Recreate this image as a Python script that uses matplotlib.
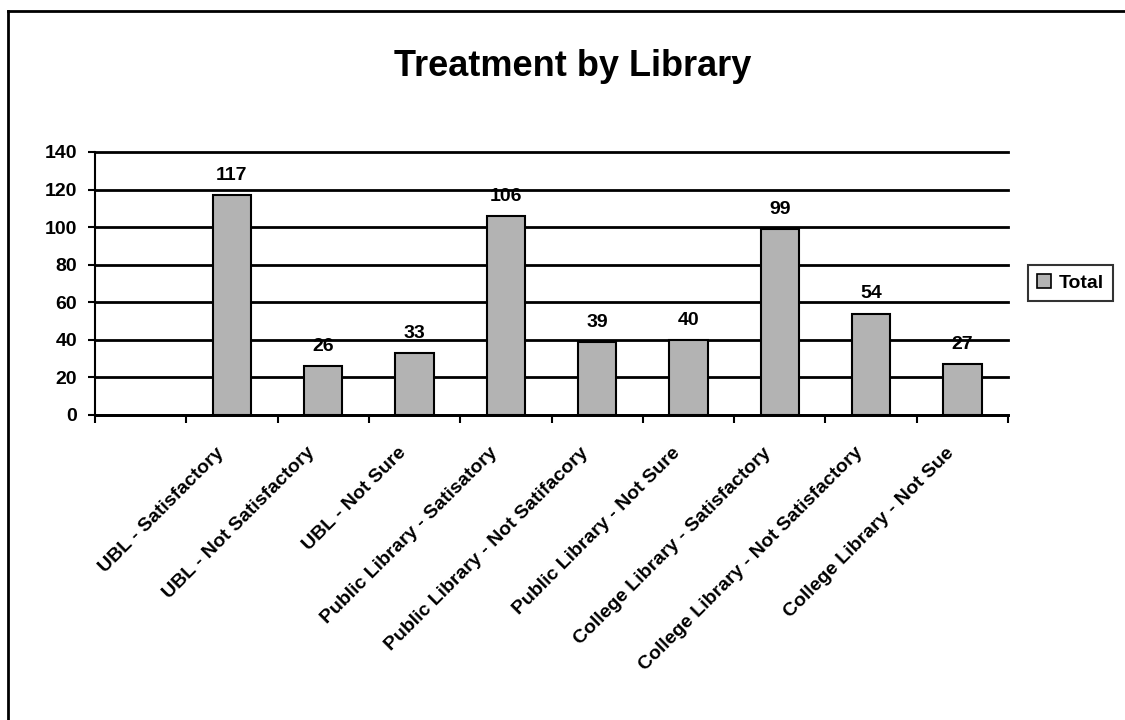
import matplotlib
matplotlib.use("Agg")
import matplotlib.pyplot as plt
import matplotlib.transforms as mtransforms
from matplotlib.patches import Patch
from matplotlib.lines import Line2D

categories = ["", "UBL - Satisfactory", "UBL - Not Satisfactory", "UBL - Not Sure",
              "Public Library - Satisatory", "Public Library - Not Satifacory",
              "Public Library - Not Sure", "College Library - Satisfactory",
              "College Library - Not Satisfactory", "College Library - Not Sue"]
values = [None, 117, 26, 33, 106, 39, 40, 99, 54, 27]
yticks = [0, 20, 40, 60, 80, 100, 120, 140]
title = "Treatment by Library"
series_name = "Total"

plt.rcParams['font.family'] = ['Liberation Sans', 'DejaVu Sans']

fig = plt.figure(figsize=(11.25, 7.2), dpi=100)
ax = fig.add_axes([95/1125, 1-415/720, (1008-95)/1125, (415-152)/720])

bar_color = "#b3b3b3"
xs = [i for i, v in enumerate(values) if v is not None]
hs = [v for v in values if v is not None]
ax.bar(xs, hs, width=0.42, color=bar_color, edgecolor="black", linewidth=1.5, zorder=3)
for x, h in zip(xs, hs):
    ax.annotate(str(h), (x, h), xytext=(0, 8), textcoords="offset points",
                ha="center", va="bottom", fontsize=14, fontweight="bold", zorder=4)

ax.set_xlim(-0.5, len(categories) - 0.5)
ax.set_ylim(0, 140)
ax.set_yticks(yticks)
ax.set_yticklabels([str(t) for t in yticks], fontsize=14, fontweight="bold")
ax.yaxis.grid(True, color="black", linewidth=2)
for gl in ax.get_ygridlines():
    gl.set_clip_on(False)
ax.set_axisbelow(True)
for s in ["top", "right"]:
    ax.spines[s].set_visible(False)
ax.spines["left"].set_linewidth(1.5)
ax.spines["bottom"].set_linewidth(2)
ax.tick_params(axis="y", direction="out", length=5, width=1.5, pad=8)

ax.set_xticks(range(len(categories)))
ax.set_xticklabels(categories, rotation=45, ha="right", va="top",
                   rotation_mode="anchor", fontsize=14, fontweight="bold")
ax.tick_params(axis="x", which="major", length=0, pad=21)
shift = mtransforms.ScaledTranslation(-17/100, 0, fig.dpi_scale_trans)
for lab in ax.get_xticklabels():
    lab.set_transform(lab.get_transform() + shift)
ax.set_xticks([i - 0.5 for i in range(len(categories) + 1)], minor=True)
ax.tick_params(axis="x", which="minor", direction="out", length=6, width=1.5)

fig.text(573/1125, 1 - 66/720, title, ha="center", va="center", fontsize=26, fontweight="bold")

handle = Patch(facecolor=bar_color, edgecolor="black", linewidth=1.2)
leg = fig.legend([handle], [series_name], loc="center left",
                 bbox_to_anchor=(1028/1125, 1 - 283/720),
                 prop={"weight": "bold", "size": 14}, frameon=True, fancybox=False,
                 edgecolor="black", handlelength=0.75, handleheight=0.75,
                 handletextpad=0.4, borderpad=0.45, borderaxespad=0)
leg.get_frame().set_linewidth(1.5)

# outer frame lines (top and left)
fig.add_artist(Line2D([8/1125, 1], [1 - 11/720, 1 - 11/720], color="black", linewidth=2,
                      transform=fig.transFigure))
fig.add_artist(Line2D([8/1125, 8/1125], [0, 1 - 11/720], color="black", linewidth=2,
                      transform=fig.transFigure))

fig.savefig("out.png", dpi=100)
